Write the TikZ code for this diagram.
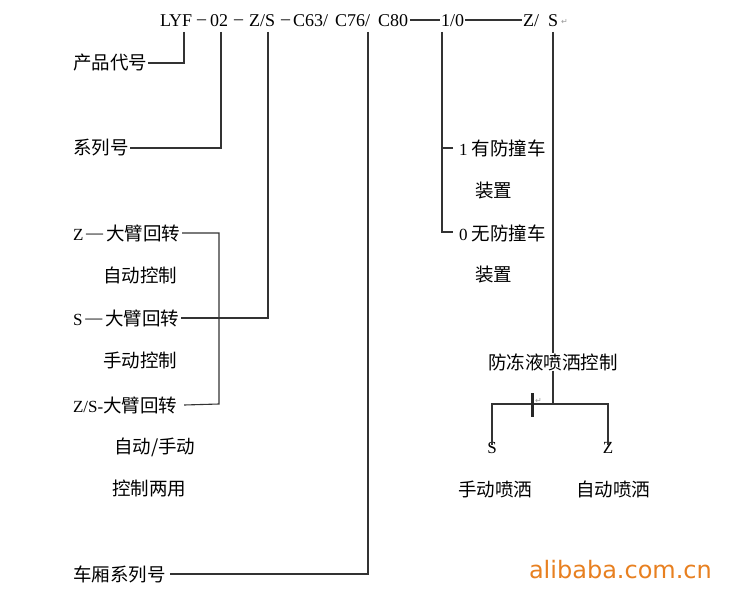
\documentclass[tikz,border=0pt]{standalone}
\usepackage{fontspec}
\setmainfont{Liberation Serif}
\newfontfamily\cjkfont{Noto Sans CJK SC}
\newfontfamily\symfont{DejaVu Sans}
\newcommand\zhtxt[1]{{\cjkfont\fontsize{18.5}{22}\selectfont #1}}
\newcommand\dashtxt{\raisebox{1.5pt}{–}}
\newcommand\emdashtxt{\raisebox{1.8pt}{—}}
\definecolor{aliorange}{RGB}{232,128,32}
\begin{document}
\begin{tikzpicture}[x=1pt,y=-1pt,
  every node/.style={inner sep=0pt, outer sep=0pt, anchor=west, font=\fontsize{17}{20}\selectfont},
  topline/.style={anchor=base west, font=\fontsize{18}{21}\selectfont},
  ln/.style={line width=1.1pt, draw=black!80},
  retmark/.style={text=black!40, font=\symfont\fontsize{8}{9}\selectfont}]
\useasboundingbox[fill=white] (0,0) rectangle (744,604);

% top code line (baseline y=26.5)
\node[topline] (lyf) at (160,26.5) {LYF};
\node[topline] (d1) at (197,26.5) {\dashtxt};
\node[topline] (n02) at (210,26.5) {02};
\node[topline] (d2) at (234,26.5) {\dashtxt};
\node[topline] (zs) at (249,26.5) {Z/S};
\node[topline] (d3) at (281,26.5) {\dashtxt};
\node[topline] (c63) at (293,26.5) {C63/};
\node[topline] (c76) at (335,26.5) {C76/};
\node[topline] (c80) at (378,26.5) {C80};
\node[topline] (v10) at (441,26.5) {1/0};
\node[topline] (zsl) at (523,26.5) {Z/};
\node[topline, anchor=base] (zsr) at (553,26.5) {S};
\node[retmark] (ret1) at (561,22) {↵};
\coordinate (la) at (410,20);
\coordinate (lb) at (440,20);
\coordinate (lc) at (465,20);
\coordinate (ld) at (522,20);
\draw[ln] (la) -- (lb);
\draw[ln] (lc) -- (ld);

% tick coordinates
\coordinate (t1) at (184,32);
\coordinate (t2) at (221,32);
\coordinate (t3) at (268,32);
\coordinate (t4) at (368,32);
\coordinate (t5) at (442,32);
\coordinate (t6) at (553,32);

% left labels
\node (cp) at (73,63) {\zhtxt{产品代号}};
\node (xl) at (73,148) {\zhtxt{系列号}};
\node (zdb) at (73,233) {Z\,\emdashtxt\,\zhtxt{大臂回转}};
\node (zdk) at (103,275) {\zhtxt{自动控制}};
\node (sdb) at (73,318) {S\,\emdashtxt\,\zhtxt{大臂回转}};
\node (sdk) at (103,360) {\zhtxt{手动控制}};
\node (zsdb) at (73,405) {Z/S-\zhtxt{大臂回转}};
\node (zsk1) at (114,447) {\zhtxt{自动/手动}};
\node (zsk2) at (112,489) {\zhtxt{控制两用}};
\node (cx) at (73,574) {\zhtxt{车厢系列号}};

\draw[ln] (t1) |- ([xshift=1pt]cp.east);
\draw[ln] (t2) |- ([xshift=1pt]xl.east);
\draw[ln] (t3) |- ([xshift=2pt]sdb.east);
\draw[ln] (t4) |- ([xshift=4pt]cx.east);
\coordinate (zj) at (219,404);
\draw[ln] ([xshift=2pt]zdb.east) -| (zj) -- ([xshift=7pt]zsdb.east);

% right side: anti-collision
\coordinate (c1) at (453,148);
\coordinate (c0) at (453,232);
\draw[ln] (t5) |- (c0);
\draw[ln] (c1) -| (t5);
\node (y1) at (459,148) {1 \zhtxt{有防撞车}};
\node (y1b) at (475,191) {\zhtxt{装置}};
\node (y0) at (459,233) {0 \zhtxt{无防撞车}};
\node (y0b) at (475,275) {\zhtxt{装置}};

% right side: antifreeze spray
\node[anchor=center] (fd) at (553,362) {\zhtxt{防冻液喷洒控制}};
\draw[ln] (t6) -- (fd.north);
\coordinate (jn) at (553,404);
\draw[ln] (fd.south) -- (jn);
\node[anchor=center] (sS) at (492,448) {S};
\node[anchor=center] (zZ) at (608,448) {Z};
\draw[ln] ([yshift=-3pt]sS.north) |- (jn) -| ([yshift=-3pt]zZ.north);
\draw[line width=3pt, black!85] (532,393) -- (532,417);
\node[retmark] (ret2) at (535,401) {↵};
\node (sd) at (458,489) {\zhtxt{手动喷洒}};
\node (zd) at (576,489) {\zhtxt{自动喷洒}};

% watermark
\node[text=aliorange, font=\symfont\fontsize{24}{28}\selectfont] (ali) at (529,570) {alibaba.com.cn};
\end{tikzpicture}
\end{document}
